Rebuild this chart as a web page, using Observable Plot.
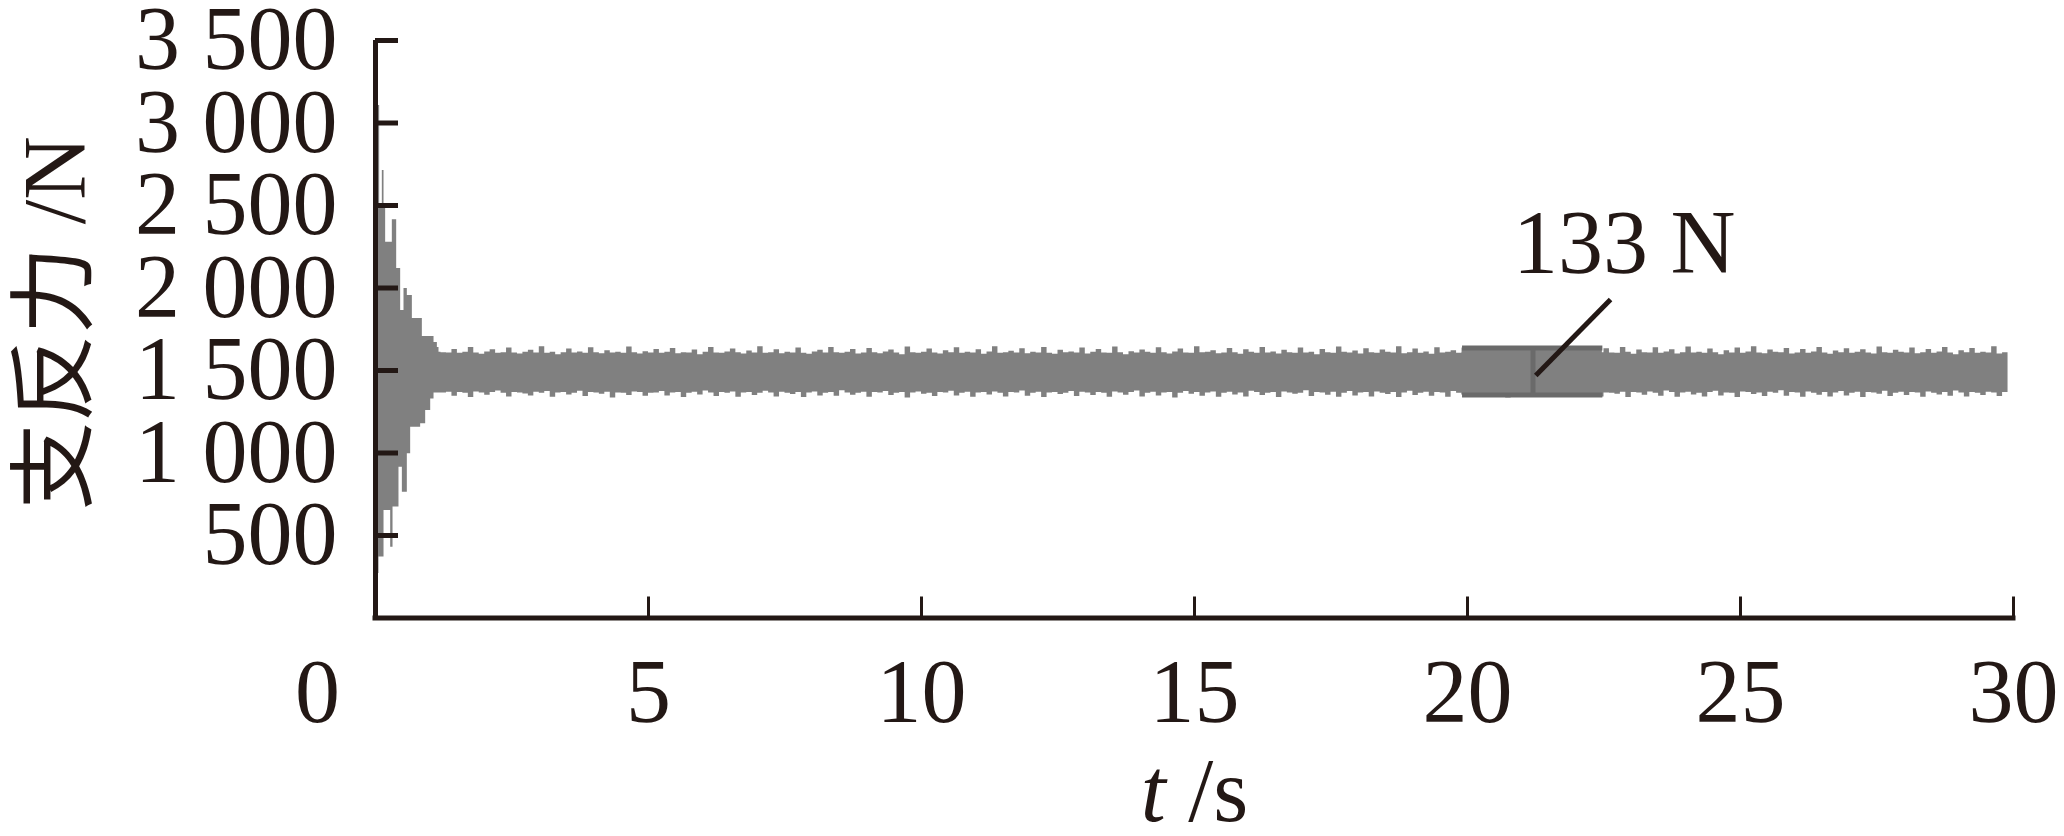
<!DOCTYPE html>
<html>
<head>
<meta charset="utf-8">
<script src="https://cdn.jsdelivr.net/npm/d3@7"></script>
<script src="https://cdn.jsdelivr.net/npm/@observablehq/plot@0.6"></script>
<style>
  html, body { margin: 0; padding: 0; background: #ffffff; }
  #chart { width: 2064px; height: 836px; }
</style>
</head>
<body>
<div id="chart"></div>
<script>
// ---- Data ----
const xTicks = [0, 5, 10, 15, 20, 25, 30];
const yTicks = [500, 1000, 1500, 2000, 2500, 3000, 3500];

// transient part (s, N): upper / lower envelope of the support reaction force
const transientT  = [0, 0.064, 0.076, 0.125, 0.156, 0.186, 0.278, 0.308, 0.321, 0.388, 0.43, 0.461, 0.492, 0.522, 0.583, 0.644, 0.675, 0.827, 0.858, 0.919, 1.011, 1.072, 1.133, 1.163];
const transientHi = [3106, 3106, 2512, 2712, 2512, 2277, 2277, 2414, 2414, 2118, 2118, 1864, 1864, 1997, 1955, 1955, 1815, 1815, 1706, 1706, 1706, 1670, 1640, 1610];
const transientLo = [270, 369, 369, 369, 652, 652, 429, 429, 672, 672, 914, 914, 762, 762, 995, 1156, 1156, 1177, 1177, 1258, 1328, 1364, 1364, 1364];

// steady part, envelope read every 0.1 s from 1.2 s
const steadyStart = 1.2, steadyStep = 0.1, signalEnd = 29.9;
const steadyHi = [
  1608,1606,1628,1604,1610,1640,1606,1598,1612,1626,
  1604,1608,1636,1606,1600,1610,1622,1606,1644,1604,
  1610,1596,1608,1630,1606,1612,1604,1638,1608,1602,
  1620,1606,1610,1604,1642,1608,1600,1614,1606,1628,
  1604,1610,1634,1602,1608,1606,1624,1596,1610,1640,
  1606,1604,1612,1630,1608,1600,1618,1606,1644,1604,
  1608,1626,1602,1610,1606,1636,1604,1598,1612,1622,
  1606,1640,1608,1604,1610,1628,1600,1606,1634,1608,
  1602,1612,1624,1606,1596,1642,1608,1604,1610,1630,
  1606,1600,1620,1608,1638,1604,1610,1606,1626,1598,
  1612,1644,1604,1608,1616,1606,1632,1602,1610,1606,
  1640,1604,1598,1622,1608,1612,1606,1636,1600,1610,
  1628,1606,1604,1642,1608,1596,1614,1606,1624,1610,
  1604,1638,1608,1600,1612,1630,1606,1604,1644,1608,
  1610,1620,1602,1606,1634,1608,1598,1626,1610,1604,
  1640,1606,1612,1600,1622,1608,1604,1636,1606,1610,
  1596,1628,1608,1604,1642,1610,1606,1618,1600,1632,
  1608,1604,1624,1610,1606,1644,1602,1608,1630,1604,
  1612,1598,1638,1606,1610,1620,1604,1608,1634,1600,
  1610,1626,1606,1604,1640,1608,1612,1596,1622,1606,
  1604,1636,1610,1602,1608,1628,1606,1644,1604,1610,
  1600,1618,1608,1632,1606,1604,1640,1610,1598,1624,
  1608,1606,1638,1604,1612,1626,1600,1608,1642,1606,
  1610,1604,1630,1608,1596,1620,1606,1636,1604,1612,
  1644,1606,1602,1624,1610,1608,1634,1600,1606,1628,
  1604,1612,1640,1606,1598,1618,1608,1632,1604,1610,
  1626,1606,1600,1642,1608,1604,1622,1610,1606,1636,
  1602,1608,1628,1604,1612,1640,1606,1596,1620,1608,
  1634,1604,1610,1606,1644,1600,1608
];
const steadyLo = [
  1364,1368,1344,1366,1362,1336,1370,1364,1350,1366,
  1376,1362,1340,1366,1364,1358,1346,1368,1362,1372,
  1338,1364,1366,1352,1362,1374,1342,1366,1364,1356,
  1368,1334,1364,1362,1348,1370,1366,1344,1362,1364,
  1372,1346,1364,1366,1336,1362,1368,1352,1376,1364,
  1342,1366,1362,1370,1338,1364,1366,1348,1362,1374,
  1364,1340,1368,1362,1354,1366,1336,1364,1370,1346,
  1362,1366,1344,1378,1364,1350,1362,1368,1338,1366,
  1364,1372,1348,1362,1366,1334,1364,1370,1356,1362,
  1342,1366,1364,1374,1346,1362,1368,1338,1364,1366,
  1352,1370,1362,1340,1366,1364,1376,1344,1362,1368,
  1336,1364,1366,1354,1362,1372,1342,1368,1364,1348,
  1366,1362,1338,1370,1364,1350,1366,1376,1340,1362,
  1368,1346,1364,1366,1334,1362,1372,1356,1366,1344,
  1364,1370,1338,1362,1368,1352,1364,1340,1374,1366,
  1348,1362,1366,1336,1370,1364,1356,1362,1378,1342,
  1366,1364,1350,1368,1338,1362,1372,1346,1364,1366,
  1340,1370,1362,1354,1366,1336,1364,1374,1348,1362,
  1368,1344,1366,1364,1338,1372,1362,1352,1366,1340,
  1364,1376,1346,1362,1368,1334,1366,1358,1364,1370,
  1342,1362,1366,1350,1374,1364,1338,1368,1362,1348,
  1366,1372,1340,1364,1362,1356,1368,1336,1366,1364,
  1350,1370,1362,1344,1376,1366,1338,1364,1368,1352,
  1362,1340,1366,1374,1346,1364,1362,1336,1370,1366,
  1354,1364,1342,1368,1362,1378,1344,1366,1364,1338,
  1370,1362,1350,1366,1340,1364,1372,1346,1362,1368,
  1336,1366,1364,1356,1374,1342,1362,1368,1348,1366,
  1364,1338,1370,1362,1352,1366,1344,1376,1364,1340,
  1366,1362,1348,1368,1364,1342,1366
];

// amplitude marker (I-shaped bracket) and annotation
const bracketT = [19.9, 21.2, 22.47];      // left, middle, right (s)
const bracketF = [1352, 1636];             // bottom, top (N)
const leaderT = [22.62, 21.25];            // leader line start / end (s)
const leaderF = [1930, 1470];              // leader line start / end (N)
const annoText = ["133 N"];
const annoT = [22.87], annoF = [2088];

const xLabel = "t /s";
const yLabel = "支反力 /N";

// ---- Build tables ----
const signal = [];
transientT.forEach((t, i) => signal.push({t, hi: transientHi[i], lo: transientLo[i]}));
steadyHi.forEach((h, i) => signal.push({t: steadyStart + i * steadyStep, hi: h, lo: steadyLo[i]}));
signal.push({t: signalEnd, hi: steadyHi[steadyHi.length - 1], lo: steadyLo[steadyLo.length - 1]});

const bracketBars = [
  {x1: bracketT[0], x2: bracketT[2], y: bracketF[1]},
  {x1: bracketT[0], x2: bracketT[2], y: bracketF[0]}
];
const leader = [{x1: leaderT[0], y1: leaderF[0], x2: leaderT[1], y2: leaderF[1]}];
const anno = annoText.map((s, i) => ({t: annoT[i], f: annoF[i], s}));

// ---- Layout ----
const W = 2064, H = 836;
const mL = 375, mR = 51, mT = 40, mB = 218.5;
const frameW = W - mL - mR, frameH = H - mT - mB;
const ink = "#231815";
const serif = "'Liberation Serif', 'Times New Roman', 'Noto Sans CJK SC', serif";
const fs = 90;
const yFmt = d => d >= 1000 ? `${Math.floor(d / 1000)} ${String(d % 1000).padStart(3, "0")}` : String(d);

const chart = Plot.plot({
  width: W, height: H,
  marginLeft: mL, marginRight: mR, marginTop: mT, marginBottom: mB,
  x: {domain: [0, 30]},
  y: {domain: [0, 3500]},
  style: {fontFamily: serif, background: "#ffffff", color: ink, overflow: "visible"},
  marks: [
    Plot.areaY(signal, {x: "t", y1: "lo", y2: "hi", curve: "step-after", fill: "#808080"}),
    Plot.rect([0], {x1: bracketT[0], x2: bracketT[2], y1: bracketF[0], y2: bracketF[1], fill: "#808080"}),
    Plot.link(bracketBars, {x1: "x1", x2: "x2", y1: "y", y2: "y", stroke: "#6a6a6a", strokeWidth: 5}),
    Plot.link([0], {x1: bracketT[1], x2: bracketT[1], y1: bracketF[0], y2: bracketF[1], stroke: "#6a6a6a", strokeWidth: 5}),
    Plot.link(leader, {x1: "x1", y1: "y1", x2: "x2", y2: "y2", stroke: ink, strokeWidth: 5}),
    // axis lines and inward ticks
    Plot.ruleX([0], {stroke: ink, strokeWidth: 5}),
    Plot.ruleY([0], {stroke: ink, strokeWidth: 5, insetLeft: -2.5, insetRight: -2.5}),
    Plot.tickY(yTicks, {y: d => d, stroke: ink, strokeWidth: 5, insetRight: frameW - 23}),
    Plot.tickX(xTicks.filter(d => d > 0), {x: d => d, stroke: ink, strokeWidth: 3, insetTop: frameH - 21}),
    // tick labels
    Plot.axisY(yTicks, {anchor: "left", tickSize: 0, tickPadding: 38, fontSize: fs, tickFormat: yFmt, fill: ink, label: null}),
    Plot.axisX(xTicks.filter(d => d > 0), {anchor: "bottom", tickSize: 0, tickPadding: 40, fontSize: fs, tickFormat: d => String(d), fill: ink, label: null}),
    Plot.axisX([0], {anchor: "bottom", tickSize: 0, tickPadding: 40, fontSize: fs, tickFormat: d => String(d), fill: ink, label: null, dx: -58}),
    // axis titles
    Plot.text([xLabel], {frameAnchor: "bottom", text: d => d, fontSize: fs, lineAnchor: "bottom", textAnchor: "middle", dy: 203, fill: ink}),
    Plot.text([yLabel], {frameAnchor: "left", text: d => d, fontSize: 88, rotate: -90, lineAnchor: "middle", textAnchor: "middle", dx: -320, dy: -6, fill: ink}),
    // annotation
    Plot.text(anno, {x: "t", y: "f", text: "s", fontSize: fs, lineAnchor: "bottom", textAnchor: "middle", fill: ink})
  ]
});

document.getElementById("chart").appendChild(chart);

// italic "t" in the x-axis title
d3.select(chart).selectAll("text").filter(function () { return this.textContent === xLabel; })
  .each(function () {
    const el = d3.select(this);
    el.text(null).style("white-space", "pre");
    el.append("tspan").attr("font-style", "italic").text("t");
    el.append("tspan").text(" /s");
  });
</script>
</body>
</html>
